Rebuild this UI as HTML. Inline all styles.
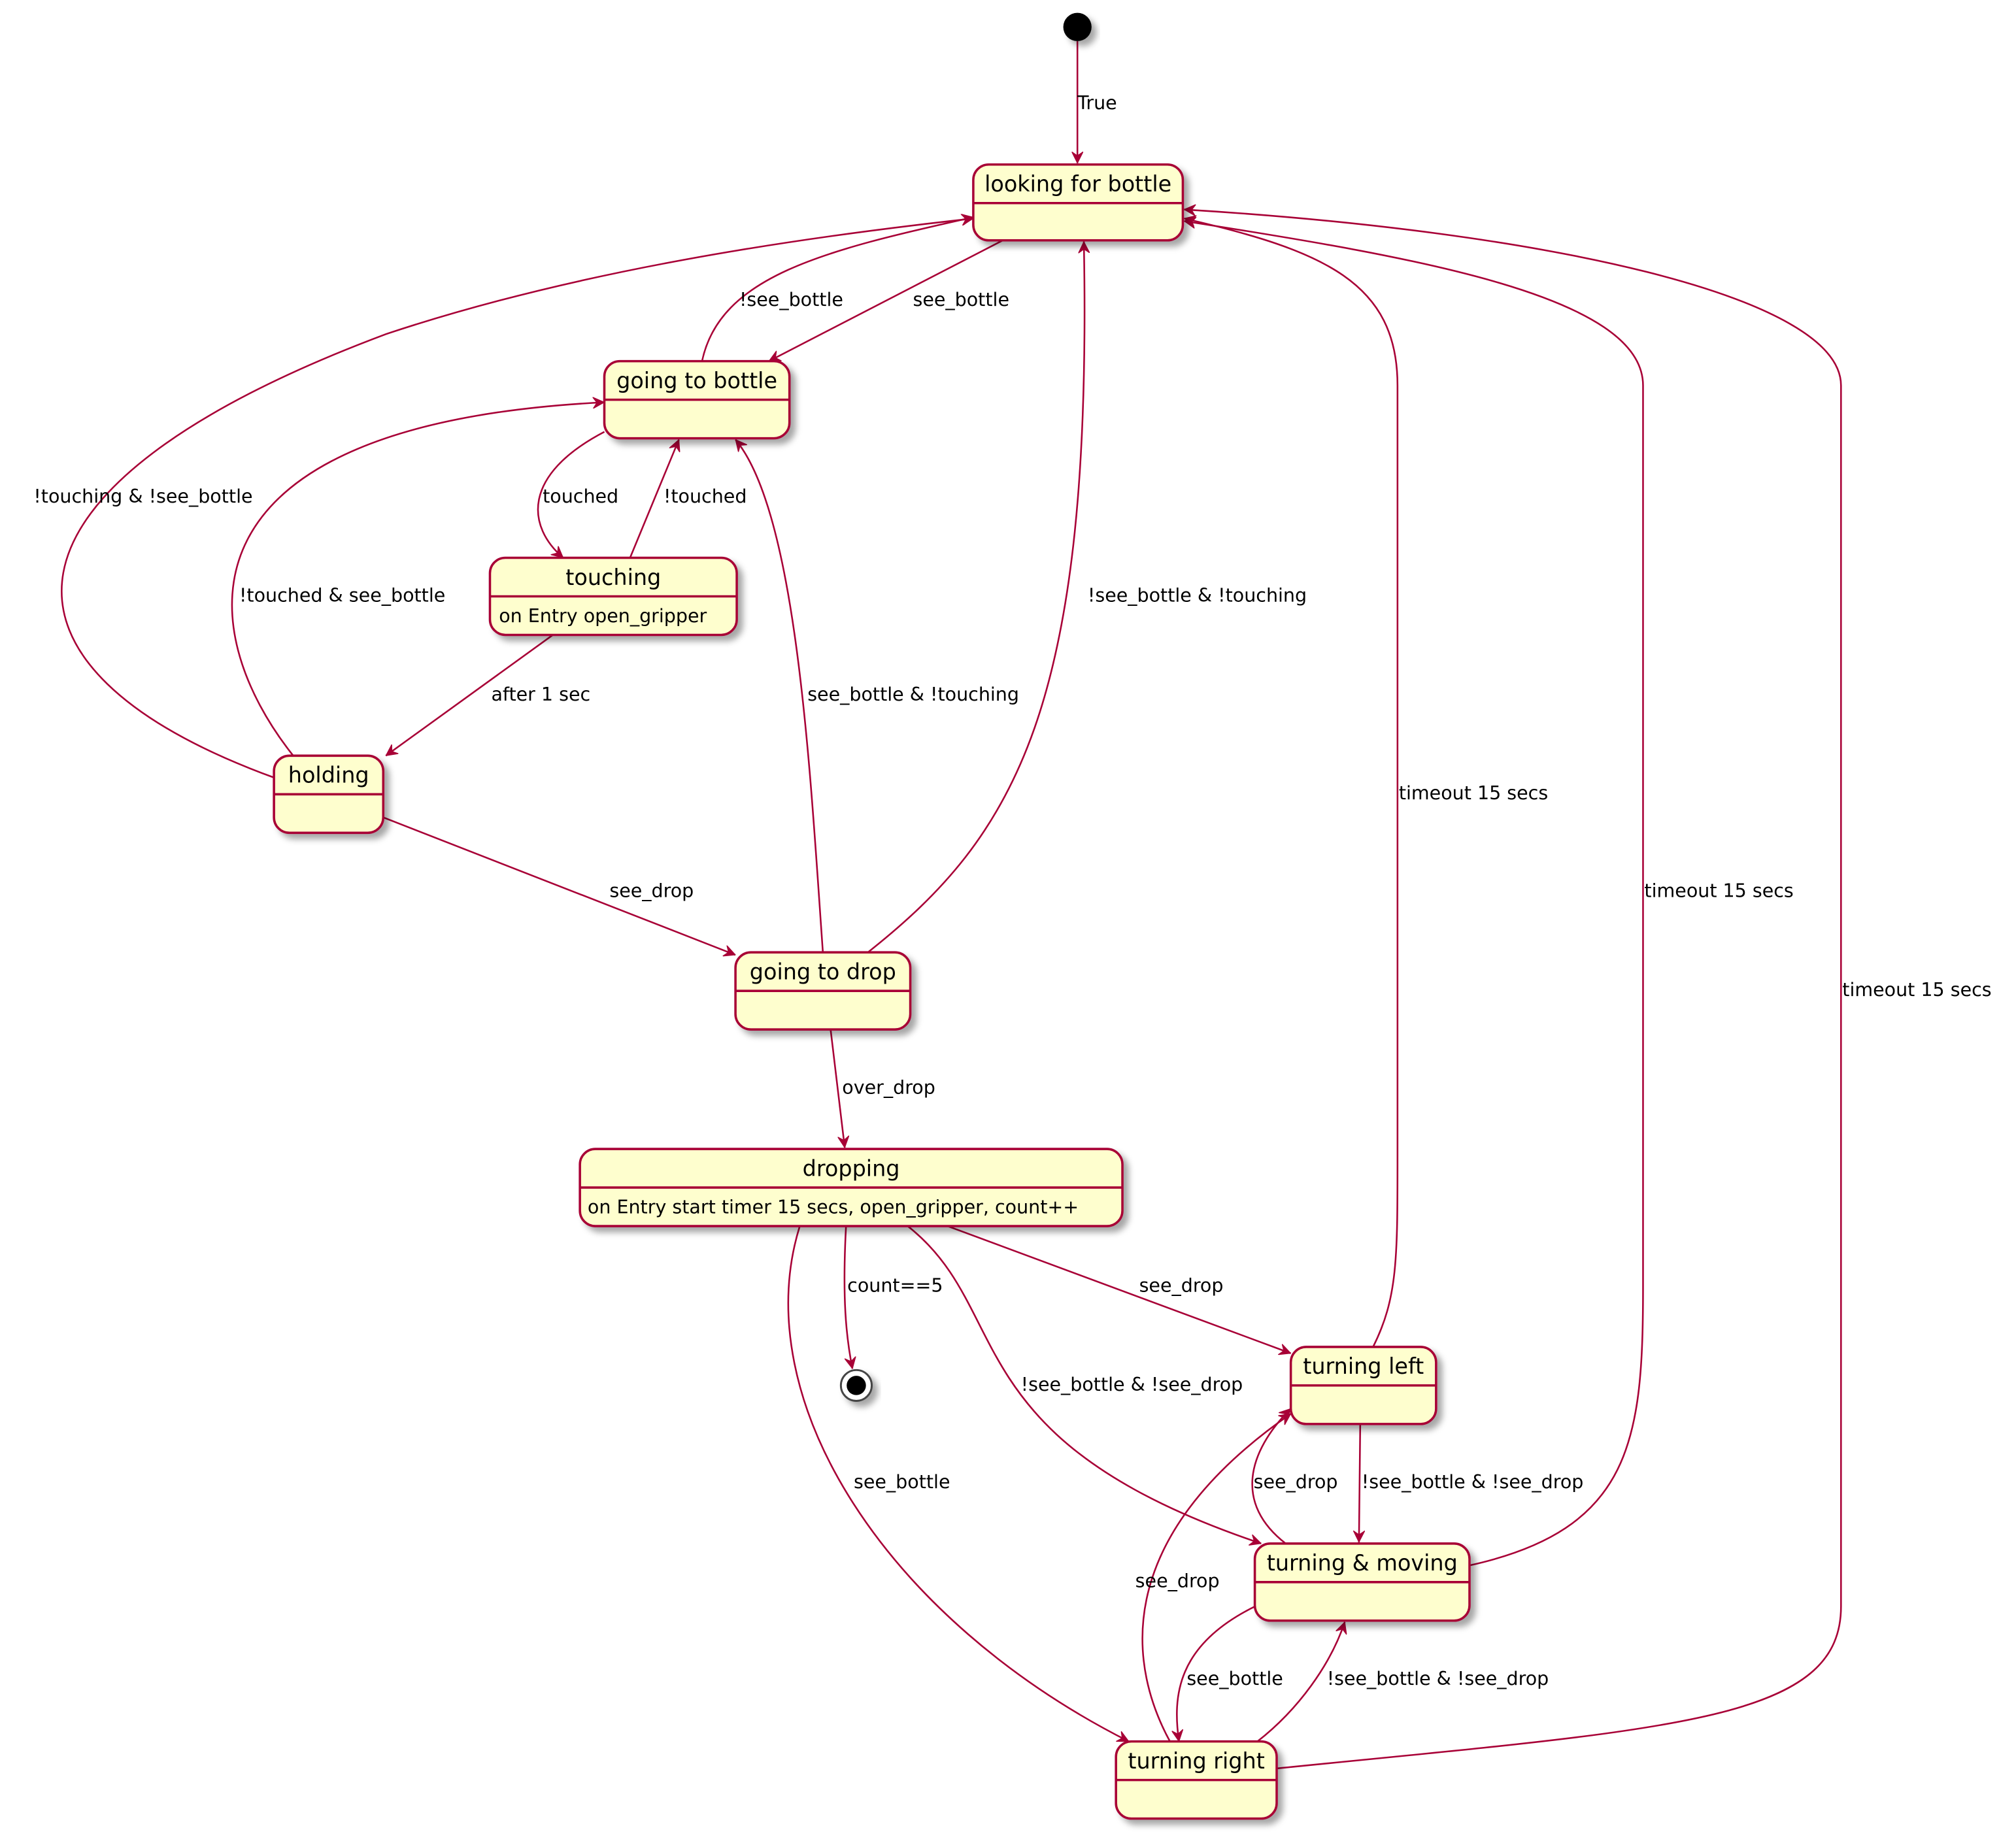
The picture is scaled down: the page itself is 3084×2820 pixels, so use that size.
<!DOCTYPE html>
<html><head><meta charset="utf-8"><style>
html,body{margin:0;padding:0;background:#fff;}
svg{display:block;}
text{font-family:"DejaVu Sans","Liberation Sans",sans-serif;fill:#000;}
.n{font-size:17px;}
.e{font-size:14.5px;}
.b{fill:#FEFECE;stroke:#A80036;stroke-width:1.8;}
.l{fill:none;stroke:#A80036;stroke-width:1.3;}
</style></head><body>
<svg width="3084" height="2820" viewBox="0 0 1568 1434" xmlns="http://www.w3.org/2000/svg">
<defs>
<marker id="a" viewBox="0 0 10 10" refX="10" refY="5" markerWidth="9" markerHeight="9" orient="auto" markerUnits="userSpaceOnUse">
<path d="M0,0 L10,5 L0,10 L3.5,5 z" fill="#A80036" stroke="#A80036" stroke-width="0.6"/>
</marker>
<filter id="s" x="-20%" y="-20%" width="150%" height="160%"><feDropShadow dx="4" dy="4" stdDeviation="2.5" flood-color="#000" flood-opacity="0.35"/></filter>
</defs>
<!-- edges -->
<g class="l" marker-end="url(#a)">
<path d="M838,32 L838,127"/>
<path d="M780,187 L598,281"/>
<path d="M546,281 C560,215 640,195 757,169"/>
<path d="M470,336 C405,370 410,410 438,434"/>
<path d="M490,434 L528,342"/>
<path d="M430,494 L300,588"/>
<path d="M228,588 C150,490 130,330 470,313"/>
<path d="M213,605 C-20,520 -20,380 300,260 C450,210 620,185 757,170"/>
<path d="M298,636 L572,743"/>
<path d="M640,741 C630,600 620,400 572,342"/>
<path d="M675,741 C790,650 850,550 843,188"/>
<path d="M646,801 L657,893"/>
<path d="M658,954 C655,1010 658,1040 663,1065"/>
<path d="M737,954 L1004,1053"/>
<path d="M706,954 C790,1020 740,1120 981,1201"/>
<path d="M622,954 C580,1090 690,1260 878,1355"/>
<path d="M1068,1048 C1087,1010 1087,980 1087,900 L1087,300 C1087,220 1030,195 921,170"/>
<path d="M1058,1108 L1057,1200"/>
<path d="M1000,1201 C960,1170 970,1130 1004,1096"/>
<path d="M1143,1218 C1270,1190 1278,1120 1278,1000 L1278,300 C1278,230 1100,200 921,172"/>
<path d="M976,1250 C915,1280 912,1320 917,1355"/>
<path d="M978,1355 C1010,1330 1035,1295 1046,1262"/>
<path d="M910,1355 C880,1300 860,1200 1004,1100"/>
<path d="M993,1376 C1300,1345 1432,1340 1432,1250 L1432,300 C1432,230 1200,180 921,163"/>
</g>
<!-- edge labels -->
<g class="e">
<text x="838" y="85">True</text>
<text x="710" y="238">see_bottle</text>
<text x="575" y="238">!see_bottle</text>
<text x="422" y="391">touched</text>
<text x="516" y="391">!touched</text>
<text x="382" y="545">after 1 sec</text>
<text x="186" y="468">!touched &amp; see_bottle</text>
<text x="26" y="391">!touching &amp; !see_bottle</text>
<text x="474" y="698">see_drop</text>
<text x="628" y="545">see_bottle &amp; !touching</text>
<text x="846" y="468">!see_bottle &amp; !touching</text>
<text x="655" y="851">over_drop</text>
<text x="659" y="1005">count==5</text>
<text x="886" y="1005">see_drop</text>
<text x="794" y="1082">!see_bottle &amp; !see_drop</text>
<text x="664" y="1158">see_bottle</text>
<text x="1088" y="622">timeout 15 secs</text>
<text x="1059" y="1158">!see_bottle &amp; !see_drop</text>
<text x="975" y="1158">see_drop</text>
<text x="1279" y="698">timeout 15 secs</text>
<text x="923" y="1311">see_bottle</text>
<text x="1032" y="1311">!see_bottle &amp; !see_drop</text>
<text x="883" y="1235">see_drop</text>
<text x="1433" y="775">timeout 15 secs</text>
</g>
<!-- start / end -->
<circle cx="838" cy="21" r="11" fill="#000" filter="url(#s)"/>
<circle cx="666" cy="1078" r="12" fill="#fff" stroke="#444" stroke-width="1.5" filter="url(#s)"/>
<circle cx="666" cy="1078" r="7.5" fill="#000"/>
<!-- nodes -->
<g>
<rect class="b" x="757" y="128" width="163" height="59" rx="12" filter="url(#s)"/>
<line class="l" x1="757" y1="158" x2="920" y2="158" style="stroke-width:1.8"/>
<text class="n" x="838.5" y="149" text-anchor="middle">looking for bottle</text>

<rect class="b" x="470" y="281" width="144" height="60" rx="12" filter="url(#s)"/>
<line class="l" x1="470" y1="311" x2="614" y2="311" style="stroke-width:1.8"/>
<text class="n" x="542" y="302" text-anchor="middle">going to bottle</text>

<rect class="b" x="381" y="434" width="192" height="60" rx="12" filter="url(#s)"/>
<line class="l" x1="381" y1="464" x2="573" y2="464" style="stroke-width:1.8"/>
<text class="n" x="477" y="455" text-anchor="middle">touching</text>
<text class="e" x="388" y="484">on Entry open_gripper</text>

<rect class="b" x="213" y="588" width="85" height="60" rx="12" filter="url(#s)"/>
<line class="l" x1="213" y1="618" x2="298" y2="618" style="stroke-width:1.8"/>
<text class="n" x="255.5" y="609" text-anchor="middle">holding</text>

<rect class="b" x="572" y="741" width="136" height="60" rx="12" filter="url(#s)"/>
<line class="l" x1="572" y1="771" x2="708" y2="771" style="stroke-width:1.8"/>
<text class="n" x="640" y="762" text-anchor="middle">going to drop</text>

<rect class="b" x="451" y="894" width="422" height="60" rx="12" filter="url(#s)"/>
<line class="l" x1="451" y1="924" x2="873" y2="924" style="stroke-width:1.8"/>
<text class="n" x="662" y="915" text-anchor="middle">dropping</text>
<text class="e" x="457" y="944">on Entry start timer 15 secs, open_gripper, count++</text>

<rect class="b" x="1004" y="1048" width="113" height="60" rx="12" filter="url(#s)"/>
<line class="l" x1="1004" y1="1078" x2="1117" y2="1078" style="stroke-width:1.8"/>
<text class="n" x="1060.5" y="1069" text-anchor="middle">turning left</text>

<rect class="b" x="976" y="1201" width="167" height="60" rx="12" filter="url(#s)"/>
<line class="l" x1="976" y1="1231" x2="1143" y2="1231" style="stroke-width:1.8"/>
<text class="n" x="1059.5" y="1222" text-anchor="middle">turning &amp; moving</text>

<rect class="b" x="868" y="1355" width="125" height="60" rx="12" filter="url(#s)"/>
<line class="l" x1="868" y1="1385" x2="993" y2="1385" style="stroke-width:1.8"/>
<text class="n" x="930.5" y="1376" text-anchor="middle">turning right</text>
</g>
</svg>
</body></html>
